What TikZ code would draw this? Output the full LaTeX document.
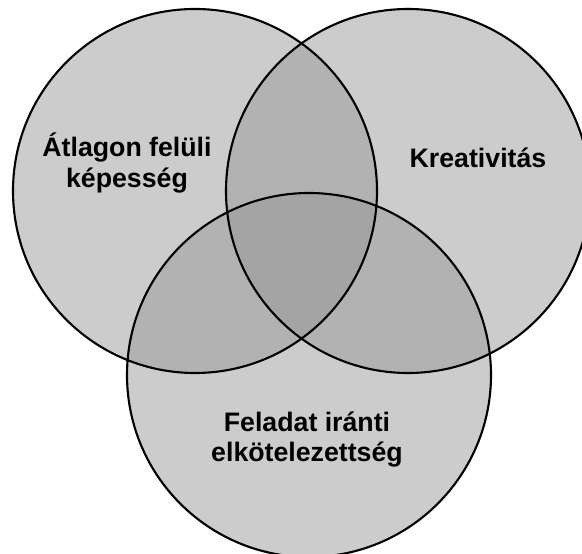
\documentclass[tikz,border=0pt]{standalone}
\usepackage{fontspec}
\setmainfont{Liberation Sans}
\definecolor{vennfill}{RGB}{150,150,150}

\begin{document}
\begin{tikzpicture}[x=0.025cm, y=0.025cm,
  set/.style={fill=vennfill, fill opacity=0.48},
  rim/.style={draw=black, line width=1.5pt},
  lbl/.style={font=\fontsize{19}{22}\selectfont\bfseries, align=center, text=black}]
  % frame
  \clip (0,0) rectangle (582,553);
  \fill[white] (0,0) rectangle (582,553);

  % centres
  \coordinate (abil) at (195,362);
  \coordinate (crea) at (408,362);
  \coordinate (task) at (309,178);

  % circles
  \foreach \n in {abil,crea,task} \fill[set] (\n) circle (182);
  \foreach \n in {abil,crea,task} \draw[rim] (\n) circle (182);

  % labels
  \node[lbl] (abiltext) at (127,390) {Átlagon felüli\\képesség};
  \node[lbl, anchor=base] (creatext) at (478,385.5) {Kreativitás};
  \node[lbl] (tasktext) at (307,113.5) {Feladat iránti\\elkötelezettség};
\end{tikzpicture}
\end{document}
